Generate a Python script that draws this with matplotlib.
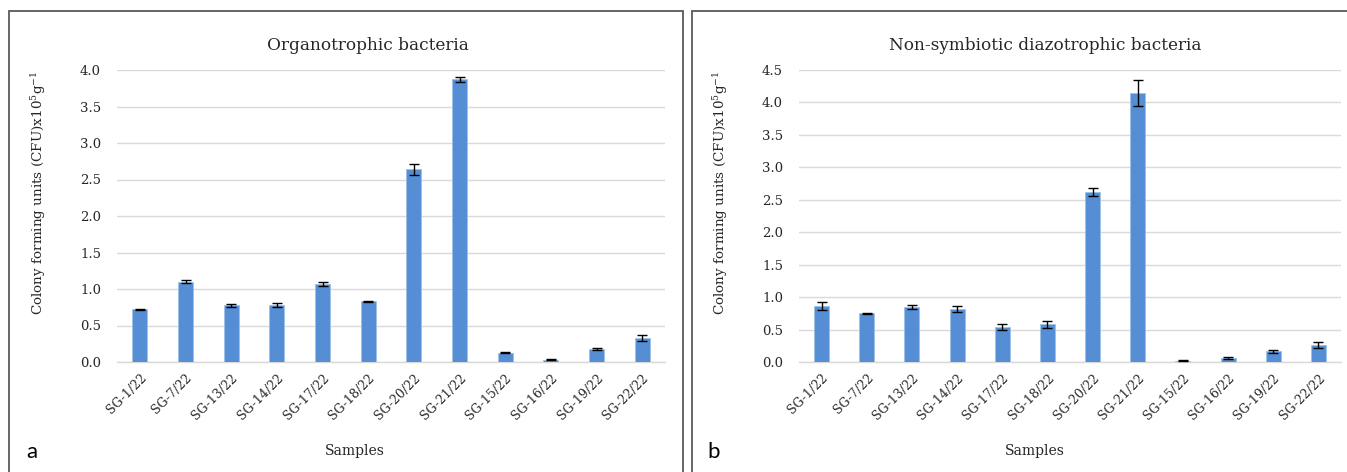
import matplotlib
matplotlib.use("Agg")
import matplotlib.pyplot as plt
from matplotlib.patches import Rectangle
from matplotlib.transforms import ScaledTranslation

# ---- data ----
samples = ["SG-1/22", "SG-7/22", "SG-13/22", "SG-14/22", "SG-17/22", "SG-18/22",
           "SG-20/22", "SG-21/22", "SG-15/22", "SG-16/22", "SG-19/22", "SG-22/22"]

organo_vals = [0.72, 1.10, 0.78, 0.78, 1.07, 0.83, 2.64, 3.87, 0.13, 0.03, 0.18, 0.33]
organo_err = [0.01, 0.02, 0.02, 0.03, 0.025, 0.01, 0.075, 0.03, 0.01, 0.005, 0.01, 0.04]

diazo_vals = [0.86, 0.75, 0.845, 0.82, 0.54, 0.58, 2.62, 4.14, 0.02, 0.06, 0.165, 0.26]
diazo_err = [0.06, 0.01, 0.03, 0.045, 0.045, 0.055, 0.055, 0.20, 0.005, 0.01, 0.02, 0.045]

organo_ticks = [0.0, 0.5, 1.0, 1.5, 2.0, 2.5, 3.0, 3.5, 4.0]
diazo_ticks = [0.0, 0.5, 1.0, 1.5, 2.0, 2.5, 3.0, 3.5, 4.0, 4.5]

BAR_COLOR = "#558ED5"
GRID_COLOR = "#D9D9D9"
FRAME_COLOR = "#595959"
TEXT_COLOR = "#262626"

plt.rcParams["font.family"] = ["DejaVu Serif"]
plt.rcParams["mathtext.fontset"] = "dejavuserif"

W, H = 1347, 472
fig = plt.figure(figsize=(W / 100, H / 100), dpi=100)


def px_rect(x0, y0, x1, y1):
    # pixel box (top-left origin) -> figure fraction [l, b, w, h]
    return [x0 / W, 1 - y1 / H, (x1 - x0) / W, (y1 - y0) / H]


def panel(box, vals, errs, ticks, ymax, title, letter, title_x, letter_x,
          samples_x, ylabel_x):
    ax = fig.add_axes(px_rect(*box))
    x = range(len(samples))
    ax.bar(x, vals, width=0.33, color=BAR_COLOR, edgecolor="#9DC3E6",
           linewidth=0.6, zorder=3)
    ax.errorbar(x, vals, yerr=errs, fmt="none", ecolor="black",
                elinewidth=1.0, capsize=3.5, capthick=1.0, zorder=4)
    ax.set_xlim(-0.5, len(samples) - 0.5)
    ax.set_ylim(0, ymax)
    ax.set_yticks(ticks)
    ax.set_yticklabels([f"{t:.1f}" for t in ticks], fontsize=9.5, color=TEXT_COLOR)
    ax.set_xticks(list(x))
    ax.set_xticklabels(samples, rotation=45, ha="right", va="top",
                       rotation_mode="anchor", fontsize=9, color=TEXT_COLOR)
    shift = ScaledTranslation(9 / 100, 0, fig.dpi_scale_trans)
    for lab in ax.get_xticklabels():
        lab.set_transform(lab.get_transform() + shift)
    ax.tick_params(length=0, pad=11.5, axis="y")
    ax.tick_params(length=0, pad=7, axis="x")
    ax.yaxis.grid(True, color=GRID_COLOR, linewidth=1.0, zorder=0)
    for s in ["top", "right", "left"]:
        ax.spines[s].set_visible(False)
    ax.spines["bottom"].set_color(GRID_COLOR)
    ax.spines["bottom"].set_linewidth(1.0)
    ax.set_ylabel("Colony forming units (CFU)x10$^{5}$g$^{-1}$", fontsize=9.7,
                  color=TEXT_COLOR)
    x0, y0, x1, y1 = box
    ax.yaxis.set_label_coords((ylabel_x - x0) / (x1 - x0), (y1 - 193) / (y1 - y0))
    fig.text(title_x / W, 1 - 46 / H, title, ha="center", va="center",
             fontsize=12.2, color=TEXT_COLOR)
    fig.text(samples_x / W, 1 - 451 / H, "Samples", ha="center", va="center",
             fontsize=10, color=TEXT_COLOR)
    fig.text(letter_x / W, 1 - 452 / H, letter, ha="left", va="center",
             fontsize=16, family=["Lato", "DejaVu Sans"])
    return ax


panel((117, 70, 665, 362), organo_vals, organo_err, organo_ticks, 4.0,
      "Organotrophic bacteria", "a", 368, 26, 355, 48)
panel((799, 70, 1341, 362), diazo_vals, diazo_err, diazo_ticks, 4.5,
      "Non-symbiotic diazotrophic bacteria", "b", 1045, 707, 1035, 730)

# outer boxes around each panel
for bx0, bx1 in [(9, 683), (692, 1360)]:
    fig.add_artist(Rectangle((bx0 / W, -0.05), (bx1 - bx0) / W, 1.05 - 10.7 / H,
                             transform=fig.transFigure, fill=False,
                             edgecolor=FRAME_COLOR, linewidth=1.3))

plt.savefig("out.png", dpi=100)
plt.close()
